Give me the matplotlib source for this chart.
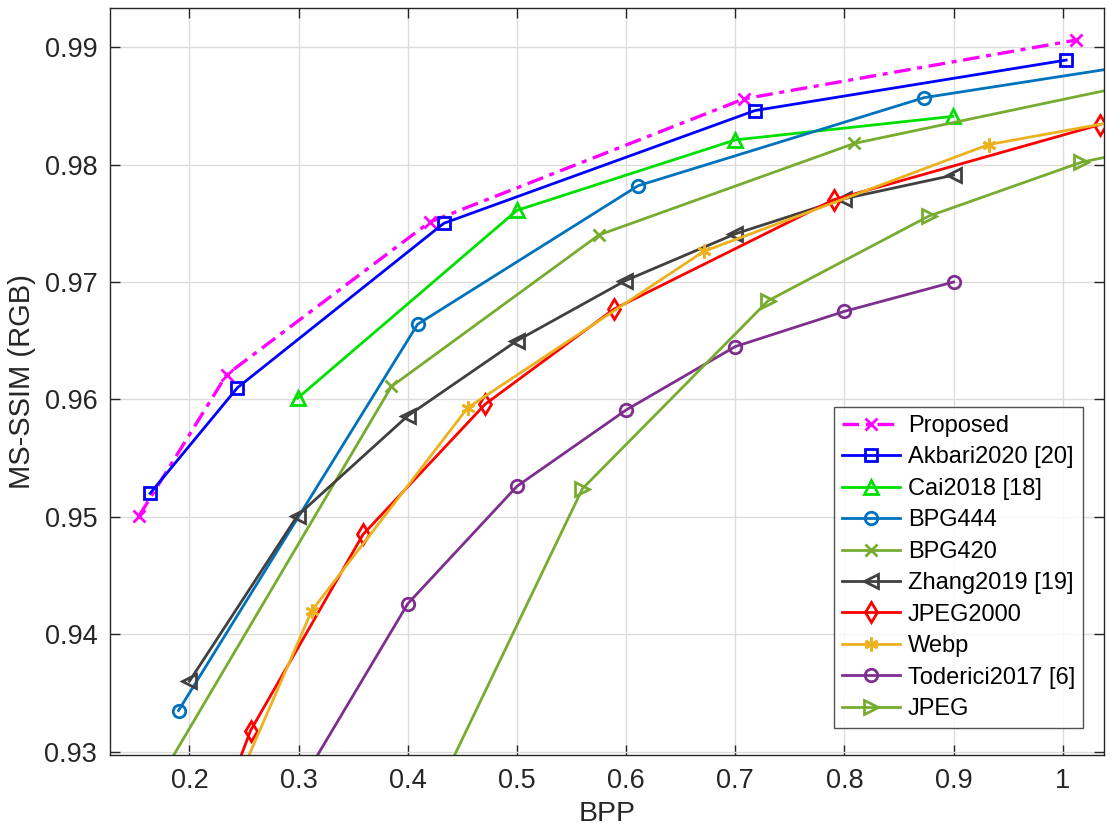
import numpy as np
import matplotlib
matplotlib.use('Agg')
import matplotlib.pyplot as plt

plt.rcParams['font.family'] = ['Liberation Sans', 'DejaVu Sans']

# datos (BPP, MS-SSIM)
prop_x = [0.154, 0.234, 0.420, 0.708, 1.012]
prop_y = [0.9501, 0.9621, 0.9751, 0.9856, 0.9906]

akb_x = [0.164, 0.244, 0.433, 0.718, 1.003]
akb_y = [0.9520, 0.9610, 0.9750, 0.9846, 0.9889]

cai_x = [0.299, 0.500, 0.700, 0.899]
cai_y = [0.9601, 0.9761, 0.9821, 0.9841]

b444_x = [0.190, 0.409, 0.611, 0.873, 1.150]
b444_y = [0.9335, 0.9664, 0.9782, 0.9857, 0.9897]

b420_x = [0.150, 0.385, 0.575, 0.809, 1.100]
b420_y = [0.9241, 0.9611, 0.9740, 0.9818, 0.9875]

zh_x = [0.200, 0.299, 0.400, 0.500, 0.599, 0.700, 0.800, 0.900]
zh_y = [0.9360, 0.9501, 0.9586, 0.9650, 0.9701, 0.9741, 0.9771, 0.9791]

j2k_x = [0.200, 0.256, 0.359, 0.471, 0.589, 0.790, 1.034]
j2k_y = [0.9180, 0.9318, 0.9485, 0.9596, 0.9677, 0.9770, 0.9834]

webp_x = [0.200, 0.312, 0.455, 0.671, 0.932, 1.080]
webp_y = [0.9180, 0.9420, 0.9593, 0.9726, 0.9817, 0.9842]

tod_x = [0.300, 0.400, 0.500, 0.600, 0.700, 0.800, 0.900]
tod_y = [0.9270, 0.9426, 0.9526, 0.9591, 0.9645, 0.9675, 0.9700]

jpg_x = [0.400, 0.560, 0.730, 0.877, 1.017, 1.100]
jpg_y = [0.9214, 0.9524, 0.9684, 0.9756, 0.9802, 0.9818]

fig = plt.figure(figsize=(11.2, 8.4), dpi=100)
ax = fig.add_axes([0.098, 0.101, 0.888, 0.889])

lw = 2.0
ms = 9
mew = 2.0

ax.plot(prop_x, prop_y, color='#FF00FF', linestyle=(0, (5, 2, 1.5, 2)), marker='x',
        lw=2.4, ms=ms, mew=mew, label='Proposed')
ax.plot(akb_x, akb_y, color='#0000FF', marker='s', mfc='none', lw=lw, ms=8, mew=mew,
        label='Akbari2020 [20]')
ax.plot(cai_x, cai_y, color='#00E000', marker='^', mfc='none', lw=lw, ms=ms + 1, mew=mew,
        label='Cai2018 [18]')
ax.plot(b444_x, b444_y, color='#0072BD', marker='o', mfc='none', lw=lw, ms=ms, mew=mew,
        label='BPG444')
ax.plot(b420_x, b420_y, color='#77AC30', marker='x', lw=lw, ms=ms, mew=mew,
        label='BPG420')
ax.plot(zh_x, zh_y, color='#404040', marker='<', mfc='none', lw=lw, ms=ms + 1, mew=mew,
        label='Zhang2019 [19]')
ax.plot(j2k_x, j2k_y, color='#FF0000', marker='d', mfc='none', lw=lw, ms=ms + 1, mew=mew,
        label='JPEG2000')
ax.plot(webp_x, webp_y, color='#EDB120', marker=(6, 2, 0), lw=lw, ms=ms + 1, mew=mew,
        label='Webp')
ax.plot(tod_x, tod_y, color='#7E2F8E', marker='o', mfc='none', lw=lw, ms=ms, mew=mew,
        label='Toderici2017 [6]')
ax.plot(jpg_x, jpg_y, color='#77AC30', marker='>', mfc='none', lw=lw, ms=ms + 1, mew=mew,
        label='JPEG')

ax.set_xlim(0.127, 1.038)
ax.set_ylim(0.9297, 0.9933)
ax.set_xticks([0.2, 0.3, 0.4, 0.5, 0.6, 0.7, 0.8, 0.9, 1.0])
ax.set_xticklabels(['0.2', '0.3', '0.4', '0.5', '0.6', '0.7', '0.8', '0.9', '1'])
ax.set_yticks([0.93, 0.94, 0.95, 0.96, 0.97, 0.98, 0.99])
ax.set_yticklabels(['0.93', '0.94', '0.95', '0.96', '0.97', '0.98', '0.99'])
ax.tick_params(direction='in', length=7, width=1, labelsize=19.5, colors='#262626',
               top=True, right=True, pad=9)
ax.grid(True, color='#DCDCDC', linewidth=1)
ax.set_axisbelow(True)
for s in ax.spines.values():
    s.set_color('#262626')
    s.set_linewidth(1)

ax.set_xlabel('BPP', fontsize=20.5, color='#262626', labelpad=5)
ax.set_ylabel('MS-SSIM (RGB)', fontsize=21, color='#262626', labelpad=6)

leg = ax.legend(loc='lower right', fontsize=17, frameon=True, fancybox=False,
                edgecolor='#262626', handlelength=2.45, borderpad=0.35,
                labelspacing=0.4, handletextpad=0.35, borderaxespad=0,
                bbox_to_anchor=(0.979, 0.036))
leg.get_frame().set_linewidth(1)

plt.savefig('out.png', dpi=100)
